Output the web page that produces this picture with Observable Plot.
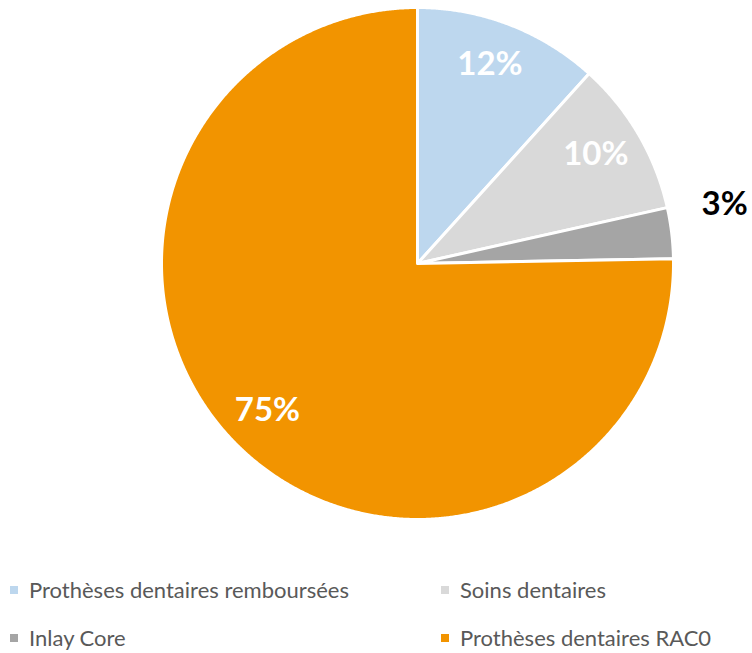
<!DOCTYPE html>
<html><head><meta charset="utf-8">
<script src="https://cdn.jsdelivr.net/npm/d3@7"></script>
<script src="https://cdn.jsdelivr.net/npm/@observablehq/plot@0.6"></script>
<style>
body{margin:0;background:#fff;font-family:Lato,"Open Sans",sans-serif;}
#legend{position:absolute;left:0;top:576px;width:752px;}
.li{position:absolute;display:flex;align-items:center;font-size:22px;color:#595959;white-space:nowrap;}
.sw{width:8px;height:8px;margin-right:11px;}
</style></head>
<body>
<div id="chart"></div>
<div id="legend"></div>
<script>
const categories = ["Prothèses dentaires remboursées","Soins dentaires","Inlay Core","Prothèses dentaires RAC0"];
const values = [11.7, 9.8, 3.2, 75.3];
const labels = ["12%","10%","3%","75%"];
const colors = ["#BDD7EE","#D9D9D9","#A5A5A5","#F29400"];
const labelInside = [true, true, false, true];

const pie = d3.pie().sort(null).value(d => d)(values);
const pts = [];
pie.forEach((p, i) => {
  pts.push({k: i, x: 0, y: 0});
  const n = Math.max(2, Math.ceil((p.endAngle - p.startAngle) / 0.005));
  for (let j = 0; j <= n; j++) {
    const a = p.startAngle + (p.endAngle - p.startAngle) * j / n;
    pts.push({k: i, x: Math.sin(a), y: Math.cos(a)});
  }
  pts.push({k: i, x: 0, y: 0});
});
const lab = pie.map((p, i) => {
  const a = (p.startAngle + p.endAngle) / 2;
  const r = labelInside[i] ? 0.82 : 1.22;
  return {t: labels[i], x: r * Math.sin(a), y: r * Math.cos(a), inside: labelInside[i]};
});

const cx = 417, cy = 263, R = 256;
const chart = Plot.plot({
  width: 752, height: 540,
  margin: 0,
  x: {domain: [-1, 1], range: [cx - R, cx + R], axis: null},
  y: {domain: [-1, 1], range: [cy + R, cy - R], axis: null},
  color: {domain: d3.range(categories.length), range: colors},
  marks: [
    Plot.line(pts, {x: "x", y: "y", z: "k", fill: d => d.k, stroke: "white", strokeWidth: 3, strokeLinejoin: "round", curve: "linear"}),
    Plot.text(lab.filter(d => d.inside), {x: "x", y: "y", text: "t", fill: "white", fontSize: 33, fontWeight: "bold", fontFamily: "Lato", dx: -3, dy: -3}),
    Plot.text(lab.filter(d => !d.inside), {x: "x", y: "y", text: "t", fill: "black", fontSize: 33, fontWeight: "bold", fontFamily: "Lato", dy: -22, dx: -3})
  ]
});
document.getElementById("chart").appendChild(chart);

const lg = document.getElementById("legend");
const pos = [[10, 0], [441, 0], [10, 48], [441, 48]];
categories.forEach((c, i) => {
  const el = document.createElement("div");
  el.className = "li";
  el.style.left = pos[i][0] + "px";
  el.style.top = pos[i][1] + "px";
  el.innerHTML = `<span class="sw" style="background:${colors[i]}"></span>${c}`;
  lg.appendChild(el);
});
</script>
</body></html>
